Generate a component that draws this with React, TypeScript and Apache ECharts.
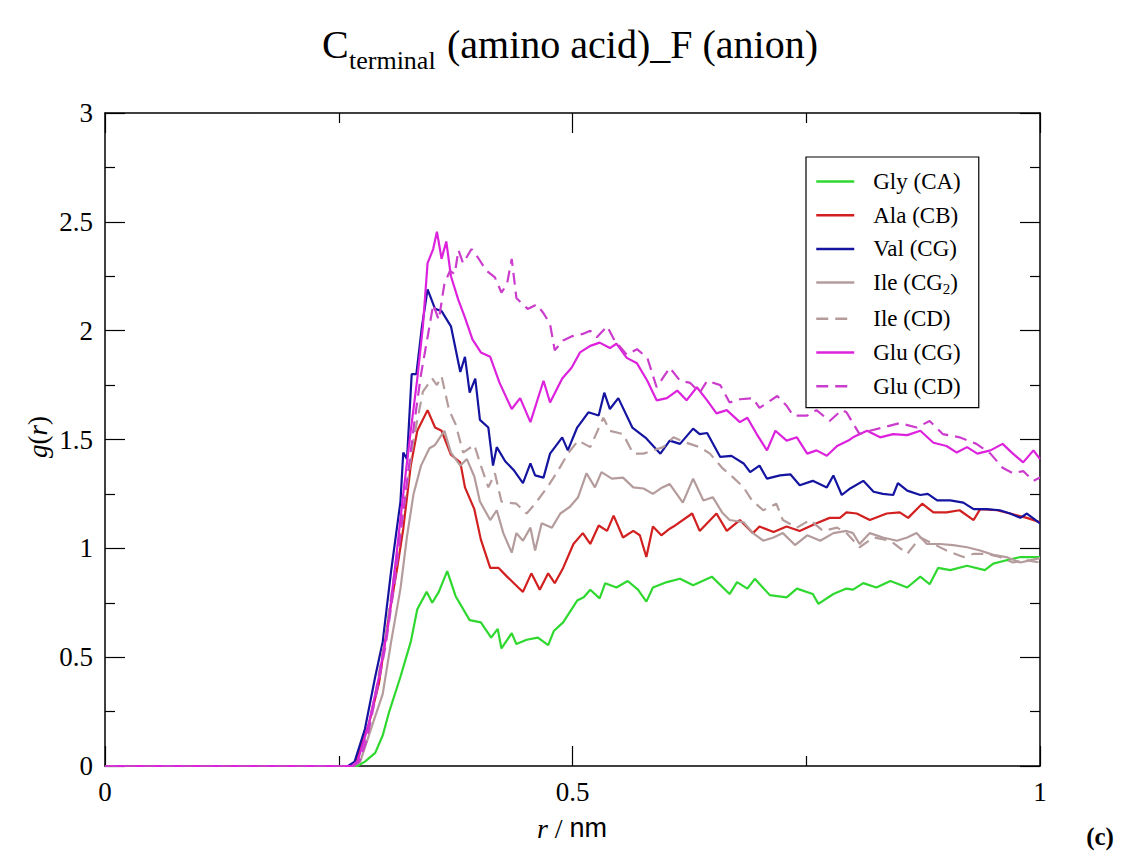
import React, { useEffect, useRef } from "react";
import * as echarts from "echarts";

const seriesNames = ["Gly (CA)", "Ala (CB)", "Val (CG)", "Ile (CG2)", "Ile (CD)", "Glu (CG)", "Glu (CD)"];

const glyCA: number[][] = [
  [0, 0], [0.27, 0], [0.278, 0.02], [0.289, 0.06], [0.297, 0.14], [0.304, 0.25], [0.316, 0.41], [0.327, 0.57], [0.334, 0.72],
  [0.344, 0.80], [0.350, 0.75], [0.357, 0.80], [0.366, 0.895], [0.375, 0.78], [0.390, 0.67], [0.402, 0.66], [0.413, 0.59],
  [0.420, 0.63], [0.424, 0.54], [0.435, 0.61], [0.44, 0.56], [0.451, 0.58], [0.463, 0.59], [0.474, 0.555], [0.48, 0.62],
  [0.49, 0.66], [0.505, 0.76], [0.512, 0.775], [0.519, 0.81], [0.529, 0.77], [0.535, 0.84], [0.547, 0.82], [0.559, 0.85],
  [0.570, 0.81], [0.579, 0.755], [0.586, 0.82], [0.601, 0.845], [0.615, 0.86], [0.629, 0.83], [0.649, 0.87], [0.668, 0.79],
  [0.676, 0.845], [0.687, 0.815], [0.695, 0.86], [0.711, 0.785], [0.729, 0.775], [0.740, 0.815], [0.757, 0.79], [0.763, 0.745],
  [0.779, 0.79], [0.793, 0.815], [0.80, 0.81], [0.811, 0.84], [0.825, 0.82], [0.84, 0.85], [0.858, 0.82], [0.872, 0.87],
  [0.882, 0.835], [0.891, 0.91], [0.904, 0.90], [0.922, 0.92], [0.941, 0.90], [0.95, 0.93], [0.964, 0.945], [0.979, 0.96], [1.0, 0.96],
];

const alaCB: number[][] = [
  [0, 0], [0.262, 0], [0.268, 0.02], [0.282, 0.19], [0.293, 0.38], [0.303, 0.67], [0.312, 0.895], [0.319, 1.09], [0.327, 1.38],
  [0.334, 1.54], [0.345, 1.635], [0.353, 1.555], [0.36, 1.54], [0.37, 1.43], [0.38, 1.395], [0.385, 1.28], [0.395, 1.18],
  [0.402, 1.04], [0.412, 0.91], [0.421, 0.91], [0.43, 0.87], [0.442, 0.82], [0.447, 0.80], [0.456, 0.885], [0.465, 0.81],
  [0.474, 0.885], [0.481, 0.84], [0.49, 0.91], [0.501, 1.02], [0.511, 1.07], [0.519, 1.02], [0.528, 1.105], [0.537, 1.08],
  [0.544, 1.15], [0.554, 1.05], [0.565, 1.08], [0.572, 1.06], [0.579, 0.96], [0.586, 1.10], [0.595, 1.06], [0.604, 1.09],
  [0.608, 1.10], [0.628, 1.16], [0.636, 1.08], [0.654, 1.16], [0.665, 1.08], [0.679, 1.13], [0.693, 1.07], [0.70, 1.10],
  [0.715, 1.075], [0.729, 1.10], [0.743, 1.08], [0.761, 1.115], [0.775, 1.14], [0.786, 1.14], [0.793, 1.165], [0.804, 1.16],
  [0.818, 1.13], [0.836, 1.16], [0.85, 1.165], [0.859, 1.14], [0.874, 1.205], [0.886, 1.165], [0.90, 1.165], [0.914, 1.175],
  [0.929, 1.13], [0.936, 1.18], [0.954, 1.175], [0.968, 1.16], [0.986, 1.14], [1.0, 1.12],
];

const valCG: number[][] = [
  [0, 0], [0.26, 0], [0.267, 0.02], [0.278, 0.17], [0.289, 0.41], [0.297, 0.57], [0.306, 0.895], [0.316, 1.215], [0.319, 1.44],
  [0.323, 1.41], [0.328, 1.80], [0.333, 1.80], [0.339, 2.02], [0.345, 2.19], [0.353, 2.10], [0.36, 2.09], [0.37, 2.02],
  [0.38, 1.81], [0.385, 1.88], [0.39, 1.715], [0.396, 1.78], [0.401, 1.59], [0.41, 1.555], [0.415, 1.38], [0.419, 1.465],
  [0.428, 1.40], [0.437, 1.36], [0.447, 1.30], [0.455, 1.39], [0.46, 1.335], [0.469, 1.325], [0.476, 1.435], [0.489, 1.51],
  [0.495, 1.45], [0.505, 1.555], [0.517, 1.625], [0.528, 1.61], [0.534, 1.715], [0.54, 1.64], [0.549, 1.69], [0.564, 1.555],
  [0.579, 1.505], [0.594, 1.435], [0.604, 1.495], [0.615, 1.48], [0.629, 1.55], [0.636, 1.525], [0.644, 1.53], [0.658, 1.42],
  [0.67, 1.425], [0.683, 1.39], [0.69, 1.35], [0.70, 1.38], [0.708, 1.32], [0.722, 1.335], [0.733, 1.34], [0.743, 1.29],
  [0.757, 1.31], [0.772, 1.28], [0.779, 1.335], [0.788, 1.245], [0.797, 1.275], [0.811, 1.31], [0.822, 1.26], [0.832, 1.25],
  [0.843, 1.245], [0.848, 1.30], [0.858, 1.265], [0.872, 1.245], [0.88, 1.25], [0.89, 1.22], [0.904, 1.22], [0.918, 1.21],
  [0.929, 1.18], [0.943, 1.18], [0.957, 1.175], [0.968, 1.16], [0.979, 1.14], [0.986, 1.16], [1.0, 1.115],
];

const ileCG2: number[][] = [
  [0, 0], [0.266, 0], [0.273, 0.02], [0.286, 0.19], [0.297, 0.33], [0.306, 0.57], [0.316, 0.815], [0.323, 1.055], [0.33, 1.25],
  [0.338, 1.38], [0.347, 1.46], [0.353, 1.475], [0.363, 1.54], [0.37, 1.44], [0.38, 1.38], [0.387, 1.41], [0.395, 1.33],
  [0.401, 1.215], [0.412, 1.13], [0.419, 1.175], [0.426, 1.07], [0.435, 0.98], [0.44, 1.07], [0.447, 1.035], [0.455, 1.095],
  [0.46, 0.99], [0.467, 1.115], [0.478, 1.095], [0.487, 1.16], [0.497, 1.19], [0.506, 1.235], [0.515, 1.345], [0.524, 1.28],
  [0.531, 1.35], [0.542, 1.32], [0.554, 1.325], [0.565, 1.28], [0.576, 1.275], [0.586, 1.25], [0.596, 1.28], [0.604, 1.295],
  [0.618, 1.21], [0.629, 1.32], [0.64, 1.22], [0.65, 1.235], [0.66, 1.165], [0.668, 1.13], [0.683, 1.12], [0.693, 1.07],
  [0.704, 1.035], [0.715, 1.05], [0.725, 1.07], [0.738, 1.015], [0.751, 1.06], [0.765, 1.035], [0.779, 1.07], [0.793, 1.08],
  [0.80, 1.07], [0.807, 1.02], [0.818, 1.07], [0.832, 1.05], [0.847, 1.035], [0.858, 1.05], [0.868, 1.07], [0.879, 1.02],
  [0.893, 1.02], [0.907, 1.015], [0.922, 1.005], [0.936, 0.99], [0.95, 0.97], [0.964, 0.96], [0.979, 0.935], [0.989, 0.945], [1.0, 0.955],
];

const ileCD: number[][] = [
  [0, 0], [0.264, 0], [0.27, 0.02], [0.28, 0.15], [0.29, 0.35], [0.30, 0.6], [0.31, 0.9], [0.32, 1.2], [0.33, 1.5], [0.34, 1.72],
  [0.35, 1.78], [0.355, 1.75], [0.36, 1.79], [0.368, 1.635], [0.375, 1.57], [0.383, 1.44], [0.395, 1.475], [0.402, 1.38],
  [0.41, 1.28], [0.417, 1.345], [0.424, 1.215], [0.43, 1.21], [0.44, 1.205], [0.451, 1.16], [0.46, 1.205], [0.473, 1.28],
  [0.485, 1.36], [0.495, 1.435], [0.506, 1.495], [0.519, 1.465], [0.533, 1.60], [0.54, 1.54], [0.554, 1.525], [0.565, 1.435],
  [0.576, 1.435], [0.586, 1.45], [0.597, 1.465], [0.608, 1.51], [0.622, 1.485], [0.636, 1.465], [0.647, 1.435], [0.66, 1.37],
  [0.672, 1.325], [0.683, 1.28], [0.692, 1.22], [0.704, 1.175], [0.718, 1.205], [0.725, 1.13], [0.74, 1.095], [0.754, 1.13],
  [0.768, 1.08], [0.783, 1.095], [0.793, 1.07], [0.807, 1.005], [0.822, 1.05], [0.84, 1.035], [0.858, 0.975], [0.872, 1.05],
  [0.886, 1.02], [0.90, 0.99], [0.918, 0.96], [0.929, 0.975], [0.943, 0.975], [0.957, 0.96], [0.971, 0.935], [0.986, 0.945], [1.0, 0.935],
];

const gluCG: number[][] = [
  [0, 0], [0.264, 0], [0.27, 0.02], [0.282, 0.19], [0.293, 0.41], [0.303, 0.65], [0.312, 0.98], [0.319, 1.25], [0.327, 1.54],
  [0.334, 1.78], [0.34, 2.02], [0.345, 2.31], [0.351, 2.375], [0.355, 2.455], [0.36, 2.33], [0.365, 2.41], [0.37, 2.25],
  [0.378, 2.14], [0.385, 2.06], [0.393, 1.96], [0.402, 1.9], [0.412, 1.88], [0.422, 1.76], [0.435, 1.64], [0.444, 1.69],
  [0.455, 1.58], [0.469, 1.77], [0.476, 1.67], [0.489, 1.78], [0.499, 1.83], [0.508, 1.90], [0.519, 1.93], [0.529, 1.945],
  [0.54, 1.92], [0.547, 1.94], [0.558, 1.875], [0.569, 1.85], [0.58, 1.77], [0.59, 1.68], [0.601, 1.69], [0.612, 1.725],
  [0.622, 1.68], [0.633, 1.74], [0.644, 1.68], [0.654, 1.62], [0.665, 1.635], [0.679, 1.58], [0.687, 1.60], [0.697, 1.525],
  [0.708, 1.45], [0.717, 1.54], [0.729, 1.495], [0.74, 1.51], [0.751, 1.435], [0.761, 1.45], [0.772, 1.425], [0.783, 1.47],
  [0.795, 1.495], [0.80, 1.51], [0.815, 1.54], [0.829, 1.51], [0.843, 1.525], [0.858, 1.52], [0.872, 1.54], [0.886, 1.485],
  [0.90, 1.47], [0.911, 1.44], [0.922, 1.465], [0.933, 1.435], [0.947, 1.45], [0.96, 1.48], [0.971, 1.435], [0.982, 1.395],
  [0.993, 1.45], [1.0, 1.41],
];

const gluCD: number[][] = [
  [0, 0], [0.266, 0], [0.272, 0.02], [0.28, 0.12], [0.29, 0.33], [0.30, 0.55], [0.31, 0.85], [0.32, 1.2], [0.33, 1.55],
  [0.338, 1.8], [0.345, 1.97], [0.351, 2.12], [0.357, 2.05], [0.363, 2.215], [0.369, 2.275], [0.374, 2.26], [0.378, 2.37],
  [0.383, 2.31], [0.392, 2.375], [0.399, 2.335], [0.408, 2.275], [0.417, 2.245], [0.424, 2.175], [0.43, 2.215], [0.435, 2.33],
  [0.44, 2.15], [0.452, 2.10], [0.462, 2.12], [0.469, 2.08], [0.476, 2.03], [0.481, 1.91], [0.49, 1.955], [0.50, 1.975],
  [0.511, 1.985], [0.519, 2.00], [0.526, 1.97], [0.537, 2.02], [0.545, 1.955], [0.558, 1.89], [0.569, 1.915], [0.58, 1.875],
  [0.59, 1.74], [0.597, 1.785], [0.604, 1.83], [0.615, 1.77], [0.626, 1.76], [0.636, 1.715], [0.644, 1.77], [0.658, 1.75],
  [0.668, 1.67], [0.679, 1.685], [0.693, 1.69], [0.70, 1.645], [0.719, 1.70], [0.729, 1.655], [0.736, 1.61], [0.751, 1.61],
  [0.761, 1.635], [0.775, 1.585], [0.788, 1.635], [0.793, 1.625], [0.807, 1.525], [0.818, 1.54], [0.832, 1.555], [0.85, 1.575],
  [0.868, 1.555], [0.882, 1.585], [0.896, 1.525], [0.914, 1.51], [0.932, 1.48], [0.947, 1.435], [0.96, 1.37], [0.971, 1.345],
  [0.982, 1.355], [0.993, 1.31], [1.0, 1.325],
];

const xTicks = [0, 0.5, 1];
const yTicks = [0, 0.5, 1, 1.5, 2, 2.5, 3];

const SERIF = '"Liberation Serif", "Times New Roman", serif';
const SANS = '"Liberation Sans", Arial, sans-serif';

export default function App() {
  const ref = useRef<HTMLDivElement>(null);
  useEffect(() => {
    if (!ref.current) return;
    const chart = echarts.init(ref.current, undefined, { renderer: "svg" });
    const datasets = [glyCA, alaCB, valCG, ileCG2, ileCD, gluCG, gluCD];
    const colors = ["#2fd82f", "#d21f1f", "#1414a0", "#b59c9c", "#b59c9c", "#dd22dd", "#cc3ccc"];
    const dashed = [false, false, false, false, true, false, true];
    const series = datasets.map((d, i) => ({
      name: seriesNames[i],
      type: "line",
      data: d,
      showSymbol: false,
      symbol: "none",
      xAxisIndex: 0,
      yAxisIndex: 0,
      lineStyle: { color: colors[i], width: 2.2, type: dashed[i] ? [12, 7] : "solid" },
      itemStyle: { color: colors[i] },
      z: 2 + i,
    }));
    const axisCommon = {
      type: "value",
      splitLine: { show: false },
      axisLine: { show: true, onZero: false, lineStyle: { color: "#000", width: 1.5 } },
      axisTick: { show: true, inside: true, length: 20, lineStyle: { color: "#000", width: 1.2 } },
      minorTick: { show: true, splitNumber: 2, length: 10, lineStyle: { color: "#000", width: 1.2 } },
    };
    chart.setOption({
      animation: false,
      backgroundColor: "#fff",
      grid: { left: 105, right: 84, top: 113, bottom: 91, containLabel: false },
      xAxis: [
        {
          ...axisCommon, position: "bottom", min: xTicks[0], max: xTicks[xTicks.length - 1], interval: 0.5,
          axisLabel: { show: true, color: "#000", fontFamily: SERIF, fontSize: 27, margin: 12 },
        },
        {
          ...axisCommon, position: "top", min: xTicks[0], max: xTicks[xTicks.length - 1], interval: 0.5,
          axisLabel: { show: false },
        },
      ],
      yAxis: [
        {
          ...axisCommon, position: "left", min: yTicks[0], max: yTicks[yTicks.length - 1], interval: 0.5,
          axisLabel: { show: true, color: "#000", fontFamily: SERIF, fontSize: 27, margin: 12 },
        },
        {
          ...axisCommon, position: "right", min: yTicks[0], max: yTicks[yTicks.length - 1], interval: 0.5,
          axisLabel: { show: false },
        },
      ],
      legend: {
        show: true,
        orient: "vertical",
        left: 806,
        top: 157,
        padding: [13, 18, 10, 9],
        itemGap: 10.7,
        itemWidth: 38,
        itemHeight: 14,
        borderColor: "#000",
        borderWidth: 1.2,
        backgroundColor: "#fff",
        align: "left",
        data: seriesNames,
        itemStyle: { opacity: 0 },
        lineStyle: { width: 2.5 },
        textStyle: {
          fontFamily: SERIF, fontSize: 23, color: "#000", lineHeight: 23, padding: [0, 0, 0, 14],
          rich: {
            n: { fontFamily: SERIF, fontSize: 23, color: "#000" },
            s: { fontFamily: SERIF, fontSize: 15, color: "#000", padding: [13, 0, 0, 0] },
          },
        },
        formatter: (name: string) => (name === "Ile (CG2)" ? "{n|Ile (CG}{s|2}{n|)}" : name),
      },
      graphic: [
        { type: "text", x: 322, y: 44, style: { text: "C", font: `40px ${SERIF}`, fill: "#000", textAlign: "left", textVerticalAlign: "middle" } },
        { type: "text", x: 349, y: 60, style: { text: "terminal", font: `26px ${SERIF}`, fill: "#000", textAlign: "left", textVerticalAlign: "middle" } },
        { type: "text", x: 437, y: 44, style: { text: " (amino acid)_F (anion)", font: `40px ${SERIF}`, fill: "#000", textAlign: "left", textVerticalAlign: "middle" } },
        {
          type: "text", x: 38, y: 437, rotation: Math.PI / 2,
          style: {
            text: "{i|g}{n|(}{i|r}{n|)}", textAlign: "center", textVerticalAlign: "middle",
            rich: {
              i: { font: `italic 27px ${SERIF}`, fill: "#000" },
              n: { font: `27px ${SERIF}`, fill: "#000" },
            },
          },
        },
        {
          type: "text", x: 572, y: 828,
          style: {
            text: "{i|r}{n| / }{s|nm}", textAlign: "center", textVerticalAlign: "middle",
            rich: {
              i: { font: `italic 28px ${SERIF}`, fill: "#000" },
              n: { font: `28px ${SERIF}`, fill: "#000" },
              s: { font: `27px ${SANS}`, fill: "#000" },
            },
          },
        },
        { type: "text", x: 1100, y: 836, style: { text: "(c)", font: `bold 25px ${SERIF}`, fill: "#000", textAlign: "center", textVerticalAlign: "middle" } },
      ],
      series,
    });
    return () => chart.dispose();
  }, []);
  return <div ref={ref} style={{ position: "fixed", left: 0, top: 0, width: 1124, height: 857, background: "#fff" }} />;
}
